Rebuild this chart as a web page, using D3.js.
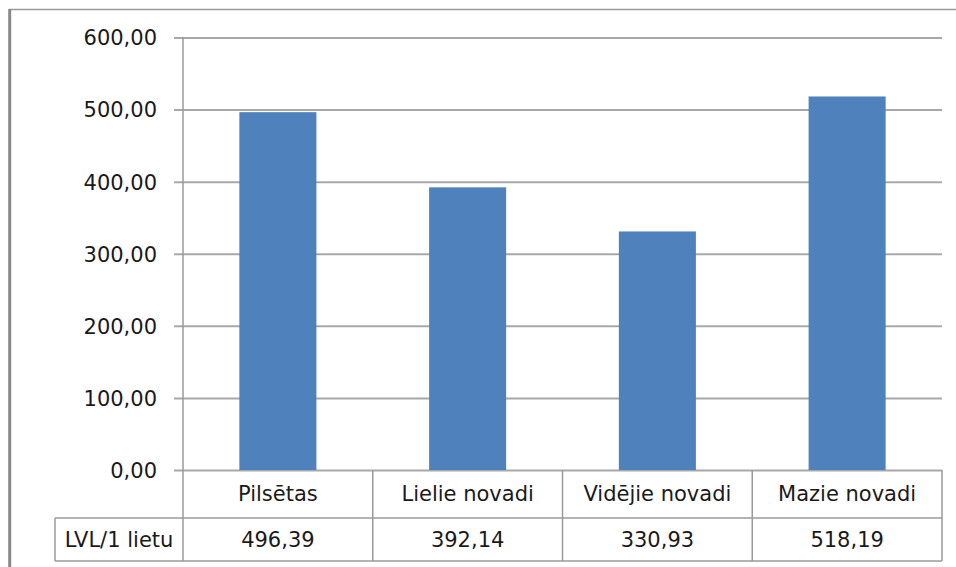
<!DOCTYPE html>
<html>
<head>
<meta charset="utf-8">
<script src="https://cdnjs.cloudflare.com/ajax/libs/d3/7.8.5/d3.min.js"></script>
<style>
  body { margin: 0; background: #fff; }
  text { font-family: "DejaVu Sans", sans-serif; fill: #1a1a1a; }
</style>
</head>
<body>
<script>
var categories = ["Pilsētas", "Lielie novadi", "Vidējie novadi", "Mazie novadi"];
var values = [496.39, 392.14, 330.93, 518.19];
var yTicks = [0, 100, 200, 300, 400, 500, 600];
var rowLabel = "LVL/1 lietu";

var W = 956, H = 567;
var plotLeft = 183, plotRight = 942, plotTop = 37.5, plotBase = 470;
var row1 = 518, row2 = 561, tableLeft = 55;

var lv = d3.formatLocale({decimal: ",", thousands: " ", grouping: [3], currency: ["", ""]});
var fmt = lv.format(".2f");

var svg = d3.select("body").append("svg")
    .attr("width", W)
    .attr("height", H)

// outer frame
svg.append("line").attr("x1", 9).attr("x2", W).attr("y1", 9.5).attr("y2", 9.5)
    .attr("stroke", "#9a9a9a").attr("stroke-width", 1.5)
svg.append("line").attr("x1", 9.7).attr("x2", 9.7).attr("y1", 9).attr("y2", H)
    .attr("stroke", "#888").attr("stroke-width", 3)

var x = d3.scaleBand()
    .domain(categories)
    .range([plotLeft, plotRight])
    .paddingInner(0.594)
    .paddingOuter(0.297)

var y = d3.scaleLinear()
    .domain([0, 600])
    .range([plotBase, plotTop])

// gridlines + tick labels
var yAxis = d3.axisLeft(y)
    .tickValues(yTicks)
    .tickFormat(fmt)
    .tickSize(-(plotRight - plotLeft))
    .tickPadding(0)

var ga = svg.append("g").attr("transform", "translate(" + plotLeft + ",0)").call(yAxis)
ga.select(".domain").remove()
ga.selectAll(".tick line")
    .attr("x1", -9)
    .attr("stroke", "#a8a8a8")
    .attr("stroke-width", 2)
ga.selectAll(".tick text")
    .attr("x", -26)
    .attr("dy", "0.35em")
    .style("font-family", "DejaVu Sans")
    .style("font-size", "21px")
    .attr("fill", "#1a1a1a")

// bars
svg.selectAll("rect.bar")
    .data(values)
    .enter().append("rect")
    .attr("class", "bar")
    .attr("x", function(d, i){ return x(categories[i]); })
    .attr("y", function(d){ return y(d); })
    .attr("width", x.bandwidth())
    .attr("height", function(d){ return plotBase - y(d); })
    .attr("fill", "#4f81bd")

// y axis line, running down through the table
svg.append("line").attr("x1", plotLeft).attr("x2", plotLeft).attr("y1", plotTop).attr("y2", row2)
    .attr("stroke", "#9a9a9a").attr("stroke-width", 1.5)

// data table
var tableStroke = "#9a9a9a";
svg.append("line").attr("x1", tableLeft).attr("x2", plotRight).attr("y1", row1).attr("y2", row1)
    .attr("stroke", tableStroke).attr("stroke-width", 1.5)
svg.append("line").attr("x1", tableLeft).attr("x2", plotRight).attr("y1", row2).attr("y2", row2)
    .attr("stroke", tableStroke).attr("stroke-width", 1.5)
svg.append("line").attr("x1", tableLeft).attr("x2", tableLeft).attr("y1", row1).attr("y2", row2)
    .attr("stroke", tableStroke).attr("stroke-width", 1.5)

var step = x.step();
for (var i = 0; i < categories.length; i++) {
    var cx = x(categories[i]) + x.bandwidth() / 2;
    var edge = cx + step / 2;
    svg.append("line").attr("x1", edge).attr("x2", edge).attr("y1", plotBase).attr("y2", row2)
        .attr("stroke", tableStroke).attr("stroke-width", 1.5)
    svg.append("text")
        .attr("x", cx).attr("y", (plotBase + row1) / 2)
        .attr("dy", "0.35em")
        .attr("text-anchor", "middle")
        .style("font-size", "21px")
        .text(categories[i])
    svg.append("text")
        .attr("x", cx).attr("y", (row1 + row2) / 2)
        .attr("dy", "0.35em")
        .attr("text-anchor", "middle")
        .style("font-size", "21px")
        .text(fmt(values[i]))
}

svg.append("text")
    .attr("x", (tableLeft + plotLeft) / 2).attr("y", (row1 + row2) / 2)
    .attr("dy", "0.35em")
    .attr("text-anchor", "middle")
    .style("font-size", "21px")
    .text(rowLabel)
</script>
</body>
</html>
